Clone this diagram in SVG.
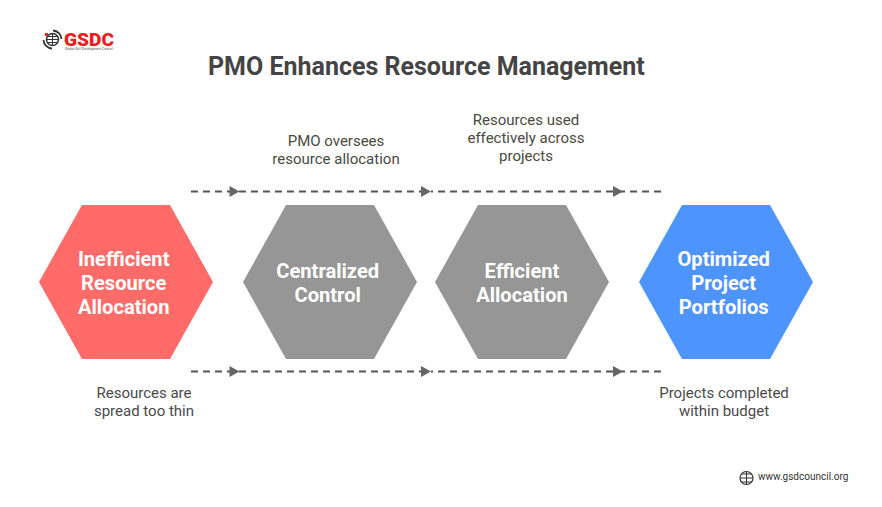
<svg xmlns="http://www.w3.org/2000/svg" width="882" height="507" viewBox="0 0 882 507">
<style>
text{font-family:Roboto,"Liberation Sans",sans-serif}
.t{font-size:25px;font-weight:700;fill:#444}
.h{font-size:20.150px;font-weight:700;fill:#fff;text-anchor:middle}
.n{font-size:15px;fill:#4a4a40;text-anchor:middle}
.b{font-size:15px;fill:#4a4a4a;text-anchor:middle}
.d{stroke:#555;stroke-width:1.800;stroke-dasharray:7 5;fill:none}
.a{fill:#666}
.g{fill:none;stroke:#333;stroke-width:1}
</style>
<rect width="882" height="507" fill="#fff"/>
<g id="logo">
<circle cx="52.500" cy="39.500" r="6" fill="none" stroke="#333" stroke-width="1.500"/>
<path class="g" d="M46.500 39.500H58.500M52.500 33.500V45.500M48 36.500H57M48 42.500H57"/>
<path d="M53 30.500A9 9 0 0 1 61.500 39M43.500 40A9 9 0 0 0 52 48.500" fill="none" stroke="#333" stroke-width="1.800"/>
<circle cx="46.500" cy="34.500" r="1.800" fill="#e8201c"/>
<text x="64" y="45.500" font-size="18.500" font-weight="900" fill="#e8201c" textLength="50" lengthAdjust="spacingAndGlyphs">GSDC</text>
<text x="65" y="50" font-size="3.800" font-weight="500" fill="#777" textLength="48" lengthAdjust="spacingAndGlyphs">Global Skill Development Council</text>
</g>
<text class="t" x="208" y="75">PMO Enhances Resource Management</text>
<g id="connectors">
<path class="d" d="M191 191.500H433M438 191.500H661M191 371.500H433M438 371.500H661"/>
<path id="arrow1" class="a" d="M229.500 186L239.500 191.500L229.500 197Z"/>
<path id="arrow2" class="a" d="M421 186L431 191.500L421 197Z"/>
<path id="arrow3" class="a" d="M613 186L623 191.500L613 197Z"/>
<path id="arrow4" class="a" d="M229.500 366L239.500 371.500L229.500 377Z"/>
<path id="arrow5" class="a" d="M421 366L431 371.500L421 377Z"/>
<path id="arrow6" class="a" d="M613 366L623 371.500L613 377Z"/>
</g>
<g id="node-inefficient">
<polygon points="39,282 82,205 170,205 213,282 170,359 82,359" fill="#ff6b68"/>
<text class="h" x="123.700" y="266">Inefficient</text>
<text class="h" x="123.700" y="290">Resource</text>
<text class="h" x="123.700" y="314">Allocation</text>
</g>
<g id="node-centralized">
<polygon points="243,282 286,205 374,205 417,282 374,359 286,359" fill="#969696"/>
<text class="h" x="327.700" y="278">Centralized</text>
<text class="h" x="327.700" y="302">Control</text>
</g>
<g id="node-efficient">
<polygon points="435,282 478,205 566,205 609,282 566,359 478,359" fill="#969696"/>
<text class="h" x="522" y="278">Efficient</text>
<text class="h" x="522" y="302">Allocation</text>
</g>
<g id="node-optimized">
<polygon points="639,282 682,205 770,205 813,282 770,359 682,359" fill="#4d94ff"/>
<text class="h" x="723.700" y="266">Optimized</text>
<text class="h" x="723.700" y="290">Project</text>
<text class="h" x="723.700" y="314">Portfolios</text>
</g>
<g id="label-oversees">
<text class="n" x="336" y="146">PMO oversees</text>
<text class="n" x="336" y="164">resource allocation</text>
</g>
<g id="label-effective">
<text class="n" x="526" y="125">Resources used</text>
<text class="n" x="526" y="143">effectively across</text>
<text class="n" x="526" y="161">projects</text>
</g>
<g id="label-thin">
<text class="b" x="144" y="398">Resources are</text>
<text class="b" x="144" y="416">spread too thin</text>
</g>
<g id="label-budget">
<text class="b" x="724" y="398">Projects completed</text>
<text class="b" x="724" y="416">within budget</text>
</g>
<g id="footer">
<circle cx="746.500" cy="478" r="6.500" fill="none" stroke="#333" stroke-width="1.200"/>
<path class="g" d="M740 478H753M746.500 471.500V484.500M742 474H751M742 482H751"/>
<text x="758" y="479.500" font-size="10" font-weight="400" fill="#333">www.gsdcouncil.org</text>
</g>
</svg>
